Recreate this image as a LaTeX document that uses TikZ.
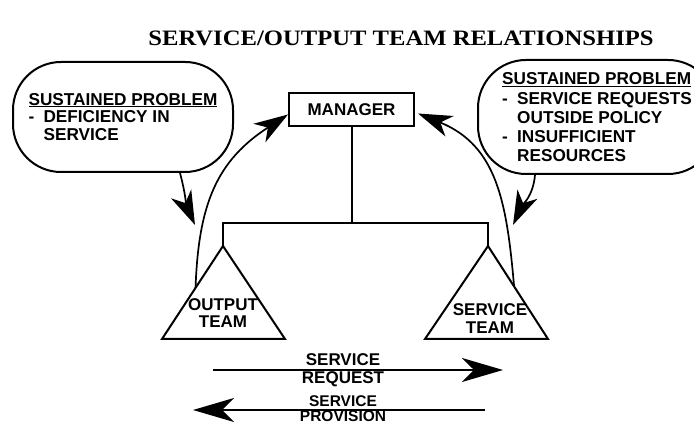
\documentclass[tikz,border=0pt]{standalone}
\usepackage{fontspec}
\usepackage{graphicx}
\setmainfont{Liberation Sans}
\newfontfamily\titlefont{Liberation Serif}
\usetikzlibrary{arrows.meta,calc}
\newcommand\dashitem{\makebox[15pt][l]{-}}
\newcommand\indentitem{\hspace*{15pt}}
\begin{document}
\begin{tikzpicture}[x=1pt,y=1pt,
  lbl/.style={font=\bfseries\fontsize{17}{17.5}\selectfont, inner sep=0pt, align=center},
  bubble/.style={draw, line width=2pt, rounded corners=48pt, font=\bfseries\fontsize{17.2}{17.8}\selectfont, align=left, inner sep=0pt},
  line/.style={line width=2pt},
  fat/.style={line width=1.7pt, -{Stealth[length=34pt,width=22pt,inset=10pt]}},
  bigfat/.style={line width=2pt, -{Stealth[length=41pt,width=24pt,inset=12pt]}}]
\clip (0,0) rectangle (694,427);
% title
\node[font=\titlefont\bfseries\fontsize{22}{22}\selectfont, inner sep=0pt] (title) at (401,389) {\scalebox{1.12}[1]{SERVICE/OUTPUT TEAM RELATIONSHIPS}};
% manager
\node[draw, line width=2pt, minimum width=125pt, minimum height=33pt, lbl] (mgr) at (351.5,317.5) {MANAGER};
% bubbles
\node[bubble, minimum width=220pt, minimum height=110pt] (lbub) at (123,310)
  {\underline{SUSTAINED PROBLEM}\\ \dashitem DEFICIENCY IN\\ \indentitem SERVICE};
\node[bubble, minimum width=238pt, minimum height=114pt, font=\bfseries\fontsize{17.2}{18.8}\selectfont] (rbub) at (597,310)
  {\underline{SUSTAINED PROBLEM}\\[1pt] \dashitem SERVICE REQUESTS\\ \indentitem OUTSIDE POLICY\\ \dashitem INSUFFICIENT\\ \indentitem RESOURCES};
% triangles
\coordinate (ltA) at (223,181);
\coordinate (ltL) at (162,88);
\coordinate (ltR) at (285,88);
\coordinate (rtA) at (488,181);
\coordinate (rtL) at (425,88);
\coordinate (rtR) at (548,88);
\draw[line] (ltL) -- (ltA) -- (ltR) -- cycle;
\draw[line] (rtL) -- (rtA) -- (rtR) -- cycle;
\node[lbl] (lteam) at (223,114) {OUTPUT\\TEAM};
\node[lbl] (rteam) at (490,108.5) {SERVICE\\TEAM};
% tree
\coordinate (junc) at (351.5,204);
\draw[line] (mgr.south) -- (junc);
\draw[line] (ltA) |- (junc) -| (rtA);
% curved arrows
\coordinate (lup) at ($(ltA)!0.45!(ltL)$);
\coordinate (rup) at ($(rtA)!0.435!(rtR)$);
\draw[fat] (lup) to[out=88,in=213,looseness=1.1] ([yshift=-5pt]mgr.west);
\draw[fat] (rup) to[out=95,in=-22,looseness=1.1] ([xshift=3pt,yshift=-4pt]mgr.east);
\coordinate (ldn) at (195,202);
\coordinate (rdn) at (513,202);
\draw[fat] ([xshift=57pt]lbub.south) to[out=-75,in=114] (ldn);
\draw[fat] ([xshift=-62pt]rbub.south) to[out=-95,in=65] (rdn);
% request / provision
\coordinate (rqS) at (213,57);
\coordinate (rqE) at (503,57);
\coordinate (pvS) at (485,17);
\coordinate (pvE) at (193,17);
\draw[bigfat] (rqS) -- (rqE);
\draw[bigfat] (pvS) -- (pvE);
\node[lbl] (rq) at (343,57) {SERVICE\\REQUEST};
\node[lbl, font=\bfseries\fontsize{15.5}{15.5}\selectfont] (pv1) at (343,26) {SERVICE};
\node[lbl, font=\bfseries\fontsize{15.5}{15.5}\selectfont] (pv2) at (343,10.5) {PROVISION};
\end{tikzpicture}
\end{document}
